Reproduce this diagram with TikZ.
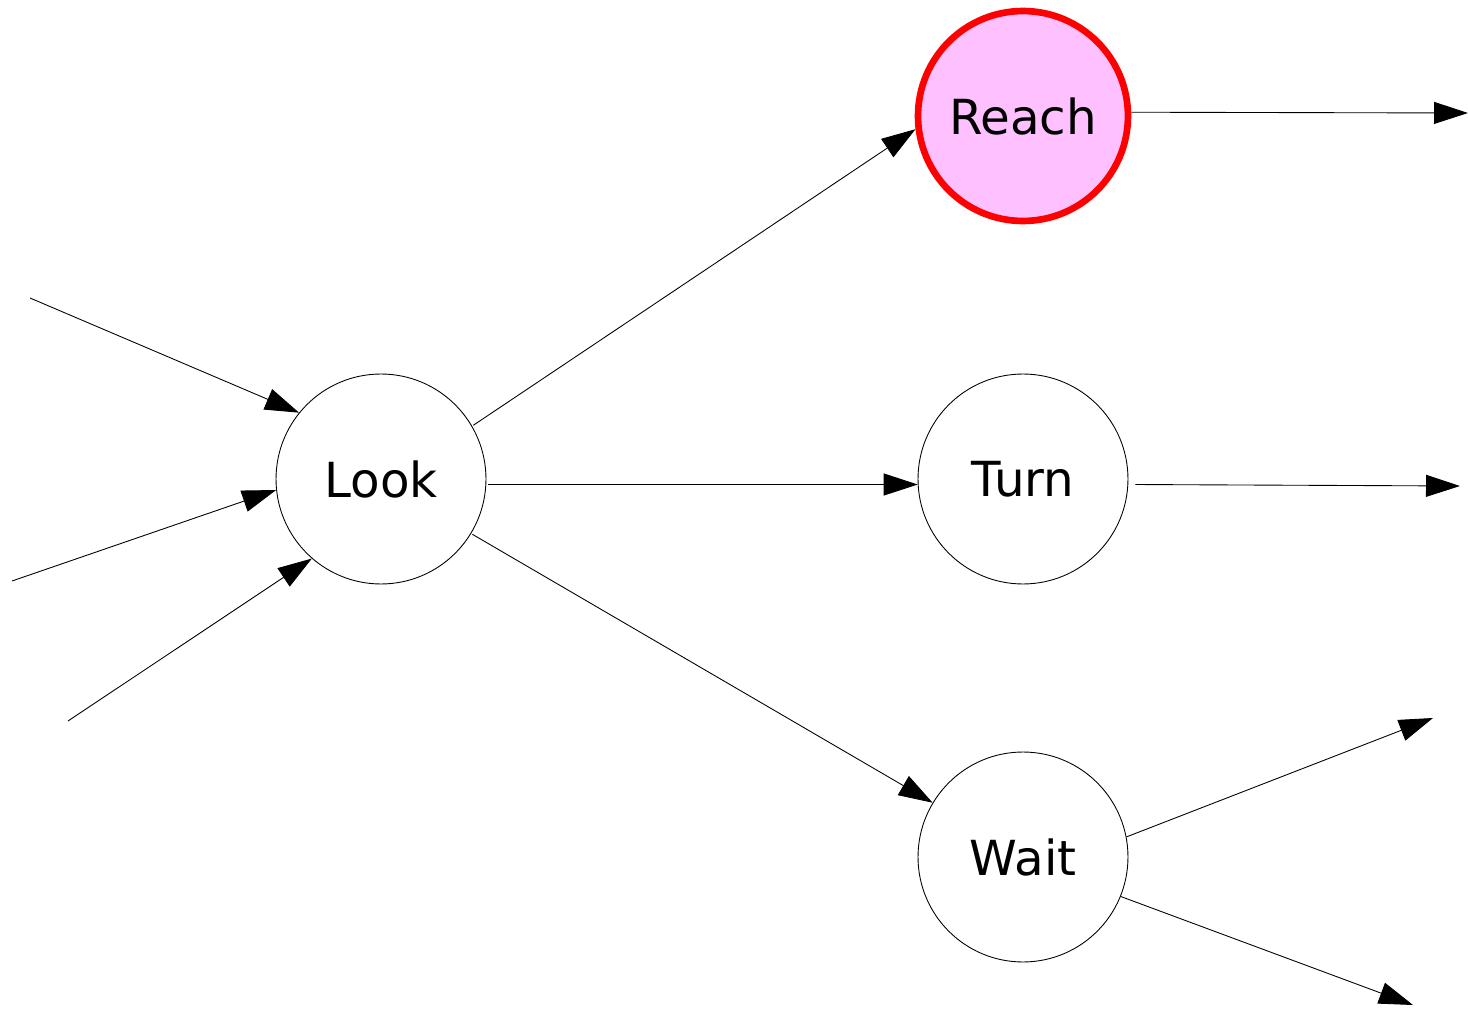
\documentclass[tikz,border=0pt]{standalone}
\usepackage{fontspec}
\setmainfont{DejaVu Sans}
\usepackage{xcolor}
\usetikzlibrary{arrows.meta,positioning}

\definecolor{goalpink}{RGB}{255,192,255}

\begin{document}
\begin{tikzpicture}[
    x=0.02cm, y=-0.02cm,
    state/.style={circle, draw=black, line width=0.5pt, minimum size=4.2cm, inner sep=0pt, font=\fontsize{27.5}{32}\selectfont},
    goal/.style={state, draw=red, fill=goalpink, line width=3.8pt},
    arrow/.style={-{Triangle[length=0.68cm, width=0.44cm]}, line width=0.5pt},
]
\useasboundingbox (0,0) rectangle (1468,1010);

% States
\node[state] (look) at (381,479) {Look};
\node[goal] (reach) at (1023,116) {Reach};
\node[state] (turn) at (1023,479) {Turn};
\node[state] (wait) at (1023,857) {Wait};

% Loose ends
\coordinate (in1) at (30,298);
\coordinate (in2) at (12,581);
\coordinate (in3) at (68,721);
\coordinate (out1) at (1468,113);
\coordinate (out2) at (1460,486);
\coordinate (out3) at (1433,718);
\coordinate (out4) at (1413,1005);

% Arrows into Look
\draw[arrow] (in1) -- (look.141);
\draw[arrow] (in2) -- (look.186);
\draw[arrow] (in3) -- (look.229);

% Arrows from Look
\draw[arrow] ([shift={(1,-1)}]look.30) -- (reach.187);
\draw[arrow] ([shift={(2,0)}]look.-3) -- (turn.183);
\draw[arrow] ([shift={(1,1)}]look.-31) -- (wait.149);

% Arrows out
\draw[arrow] (reach.2) -- (out1);
\draw[arrow] ([shift={(7,0)}]turn.-3) -- (out2);
\draw[arrow] (wait.11) -- (out3);
\draw[arrow] (wait.-22) -- (out4);

\end{tikzpicture}
\end{document}
